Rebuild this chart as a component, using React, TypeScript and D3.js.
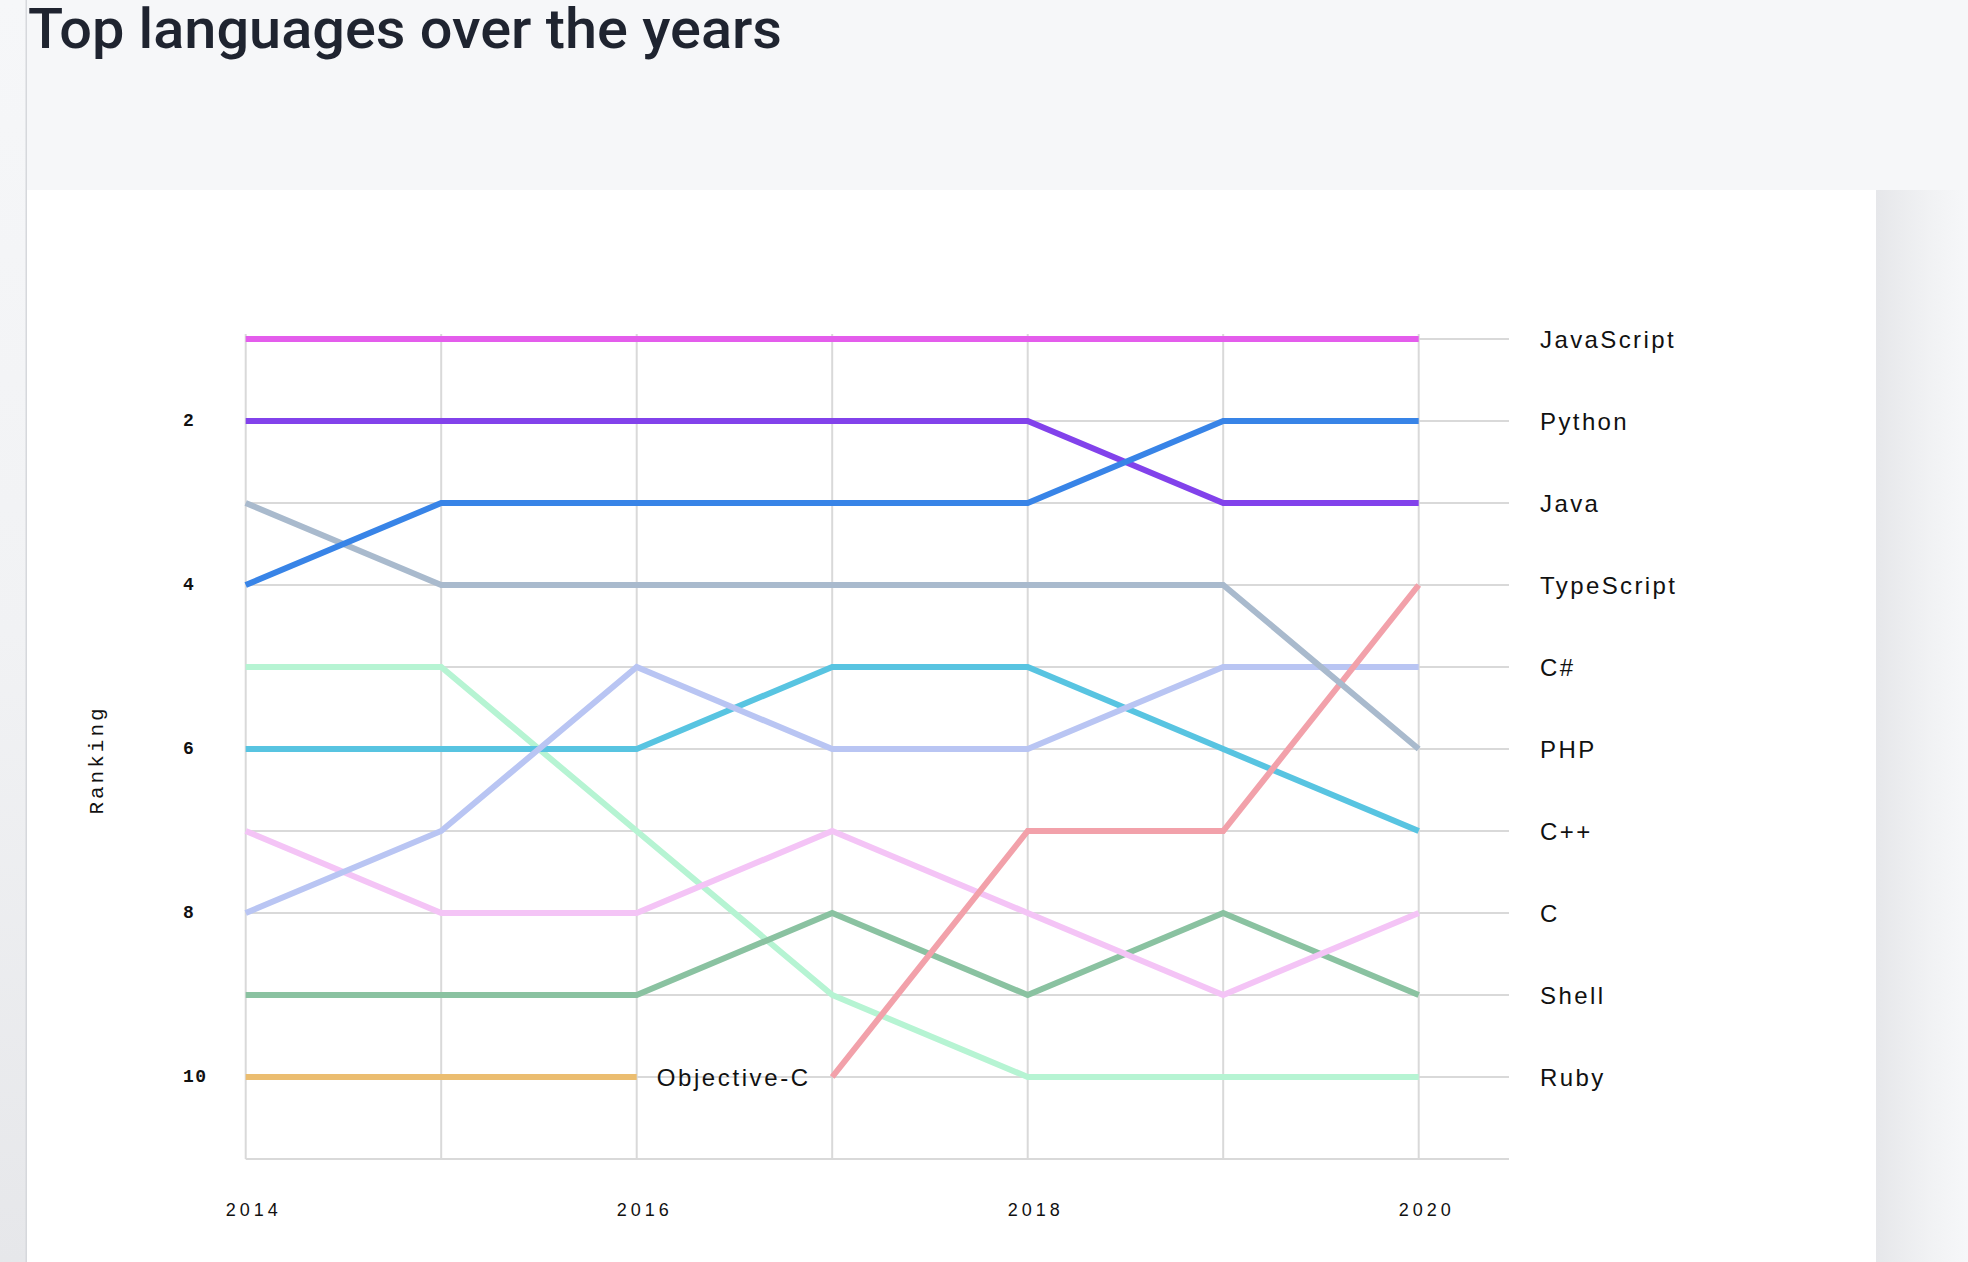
import React from "react";
import * as d3 from "d3";

const years = [2014, 2015, 2016, 2017, 2018, 2019, 2020];
const javascript = [1, 1, 1, 1, 1, 1, 1];
const python = [4, 3, 3, 3, 3, 2, 2];
const java = [2, 2, 2, 2, 2, 3, 3];
const typescript = [null, null, null, 10, 7, 7, 4];
const csharp = [8, 7, 5, 6, 6, 5, 5];
const php = [3, 4, 4, 4, 4, 4, 6];
const cpp = [6, 6, 6, 5, 5, 6, 7];
const clang = [7, 8, 8, 7, 8, 9, 8];
const shell = [9, 9, 9, 8, 9, 8, 9];
const ruby = [5, 5, 7, 9, 10, 10, 10];
const objectiveC = [10, 10, 10, null, null, null, null];

const yTicks = [2, 4, 6, 8, 10];
const xTicks = [2014, 2016, 2018, 2020];
const gridRanks = [1, 2, 3, 4, 5, 6, 7, 8, 9, 10, 11];

const series = [
  { name: "Objective-C", values: objectiveC, color: "#ebbd70" },
  { name: "Ruby", values: ruby, color: "#b6f4d3" },
  { name: "Shell", values: shell, color: "#8ac2a1" },
  { name: "C", values: clang, color: "#f4c4f6" },
  { name: "C++", values: cpp, color: "#58c4e1" },
  { name: "C#", values: csharp, color: "#b9c5f3" },
  { name: "TypeScript", values: typescript, color: "#f2a1aa" },
  { name: "PHP", values: php, color: "#a9bacd" },
  { name: "Java", values: java, color: "#8242eb" },
  { name: "Python", values: python, color: "#3884e7" },
  { name: "JavaScript", values: javascript, color: "#e45dec" },
];

export default function App() {
  const W = 1968;
  const H = 1262;
  const x = d3.scaleLinear().domain([2014, 2020]).range([245.7, 1418.7]);
  const y = d3.scaleLinear().domain([1, 11]).range([339, 1159]);
  const gridRight = 1509;
  const gridTop = 334;

  const line = d3
    .line<number | null>()
    .defined((d) => d !== null)
    .x((_, i) => x(years[i]))
    .y((d) => y(d as number));

  const last = years.length - 1;
  const endLabels = series
    .filter((s) => s.values[last] !== null)
    .sort((a, b) => (a.values[last] as number) - (b.values[last] as number));

  const objC = series.find((s) => s.name === "Objective-C")!;
  let objEnd = 0;
  objC.values.forEach((v, i) => {
    if (v !== null) objEnd = i;
  });

  return (
    <svg
      width={W}
      height={H}
      style={{ position: "absolute", left: 0, top: 0, display: "block" }}
    >
      <defs>
        <linearGradient id="rshadow" x1="0" x2="1" y1="0" y2="0">
          <stop offset="0" stopColor="#e6e7ea" />
          <stop offset="0.6" stopColor="#f1f2f4" />
          <stop offset="1" stopColor="#f6f7f9" />
        </linearGradient>
        <linearGradient id="lband" x1="0" x2="0" y1="0" y2="1">
          <stop offset="0" stopColor="#f6f7f9" />
          <stop offset="0.5" stopColor="#f1f2f4" />
          <stop offset="1" stopColor="#e6e7ea" />
        </linearGradient>
      </defs>
      <rect x={0} y={0} width={W} height={H} fill="#f6f7f9" />
      <rect x={0} y={0} width={26} height={H} fill="url(#lband)" />
      <rect x={25.5} y={0} width={1.5} height={H} fill="#d6d8dc" />
      <rect x={1876} y={190} width={92} height={H - 190} fill="url(#rshadow)" />
      <rect x={27} y={190} width={1849} height={H - 190} fill="#ffffff" />

      <text
        x={28}
        y={48}
        fontFamily="Roboto, 'Liberation Sans', sans-serif"
        fontSize={56}
        fontWeight={500}
        fill="#1f2430"
        textLength={754}
        lengthAdjust="spacingAndGlyphs"
      >
        Top languages over the years
      </text>

      {gridRanks.map((r) => (
        <line
          key={"h" + r}
          x1={x(2014)}
          x2={gridRight}
          y1={y(r)}
          y2={y(r)}
          stroke="#d9d9d9"
          strokeWidth={2}
        />
      ))}
      {years.map((yr) => (
        <line
          key={"v" + yr}
          x1={x(yr)}
          x2={x(yr)}
          y1={gridTop}
          y2={y(11)}
          stroke="#d9d9d9"
          strokeWidth={2}
        />
      ))}

      {yTicks.map((t) => (
        <text
          key={"yt" + t}
          x={183}
          y={y(t)}
          dominantBaseline="central"
          fontFamily="'Liberation Mono', monospace"
          fontSize={18}
          fontWeight={700}
          letterSpacing={1.5}
          fill="#111"
        >
          {t}
        </text>
      ))}
      <text
        transform={`translate(103,760) rotate(-90)`}
        textAnchor="middle"
        fontFamily="'Liberation Mono', 'DejaVu Sans Mono', monospace"
        fontSize={21}
        letterSpacing={3}
        fill="#111"
      >
        Ranking
      </text>

      {xTicks.map((t) => (
        <text
          key={"xt" + t}
          x={x(t) - 20}
          y={1216}
          fontFamily="'Liberation Sans', Arial, sans-serif"
          fontSize={18}
          letterSpacing={4}
          fill="#111"
        >
          {t}
        </text>
      ))}

      {series.map((s) => (
        <path
          key={s.name}
          d={line(s.values) || ""}
          fill="none"
          stroke={s.color}
          strokeWidth={6}
          strokeLinejoin="miter"
          strokeLinecap="butt"
        />
      ))}

      {endLabels.map((s) => (
        <text
          key={"l" + s.name}
          x={1540}
          y={y(s.values[last] as number)}
          dy="0.36em"
          fontFamily="'Liberation Sans', Arial, sans-serif"
          fontSize={24}
          letterSpacing={2.4}
          fill="#111"
        >
          {s.name}
        </text>
      ))}
      <text
        x={x(years[objEnd]) + 20}
        y={y(objC.values[objEnd] as number)}
        dy="0.36em"
        fontFamily="'Liberation Sans', Arial, sans-serif"
        fontSize={24}
        letterSpacing={2.6}
        fill="#111"
      >
        {objC.name}
      </text>
    </svg>
  );
}
